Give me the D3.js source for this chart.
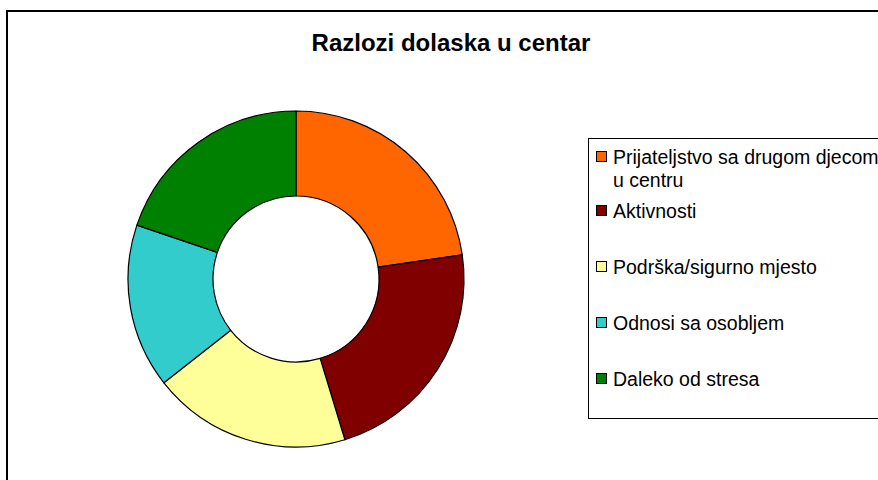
<!DOCTYPE html>
<html>
<head>
<meta charset="utf-8">
<script src="https://cdn.jsdelivr.net/npm/d3@7"></script>
<style>
	html, body { margin: 0; padding: 0; background: #fff; overflow: hidden; }
	svg { display: block; }
</style>
</head>
<body>
<script>
const TITLE = "Razlozi dolaska u centar";
const categories = [
	["Prijateljstvo sa drugom djecom", "u centru"],
	["Aktivnosti"],
	["Podrška/sigurno mjesto"],
	["Odnosi sa osobljem"],
	["Daleko od stresa"]
];
const values = [22.7, 22.6, 19.1, 15.8, 19.8];
const colors = ["#FF6600", "#800000", "#FFFF99", "#33CCCC", "#008000"];

const WIDTH = 878;
const HEIGHT = 480;
const FONT = "'Liberation Sans', Arial, sans-serif";

const CENTER = { x: 296, y: 279 };
const OUTER_R = 168;
const INNER_R = 83;

const LEGEND = { x: 588, y: 138, width: 400, height: 280, rowY: [157, 211, 267, 323, 379], lineGap: 23 };

const svg = d3.select("body").append("svg")
	.attr("width", WIDTH)
	.attr("height", HEIGHT);

// chart frame (runs off the right and bottom edge)
svg.append("rect")
	.attr("x", 7)
	.attr("y", 11)
	.attr("width", 1000)
	.attr("height", 1000)
	.attr("fill", "#fff")
	.attr("stroke", "#000")
	.attr("stroke-width", 2);

svg.append("text")
	.attr("x", 451)
	.attr("y", 51)
	.attr("text-anchor", "middle")
	.attr("font-family", FONT)
	.attr("font-weight", "bold")
	.attr("font-size", "24px")
	.text(TITLE);

const pie = d3.pie()
	.sort(null)
	.value(d => d);

const arc = d3.arc()
	.innerRadius(INNER_R)
	.outerRadius(OUTER_R);

svg.append("g")
	.attr("transform", `translate(${CENTER.x},${CENTER.y})`)
	.selectAll("path")
	.data(pie(values))
	.join("path")
	.attr("d", arc)
	.attr("fill", (d, i) => colors[i])
	.attr("stroke", "#000")
	.attr("stroke-width", 1.2)
	.attr("stroke-linejoin", "round");

// legend
const legend = svg.append("g");

legend.append("rect")
	.attr("x", LEGEND.x + 0.5)
	.attr("y", LEGEND.y + 0.5)
	.attr("width", LEGEND.width)
	.attr("height", LEGEND.height)
	.attr("fill", "#fff")
	.attr("stroke", "#000")
	.attr("stroke-width", 1);

const items = legend.selectAll("g.item")
	.data(categories)
	.join("g")
	.attr("class", "item")
	.attr("transform", (d, i) => `translate(${LEGEND.x},${LEGEND.rowY[i]})`);

items.append("rect")
	.attr("x", 8.5)
	.attr("y", -5.5)
	.attr("width", 10)
	.attr("height", 10)
	.attr("fill", (d, i) => colors[i])
	.attr("stroke", "#000")
	.attr("stroke-width", 1);

items.append("text")
	.attr("x", 25)
	.attr("font-family", FONT)
	.attr("font-size", "19.5px")
	.attr("fill", "#000")
	.selectAll("tspan")
	.data(d => d)
	.join("tspan")
	.attr("x", 25)
	.attr("y", (d, j) => 7 + j * LEGEND.lineGap)
	.text(d => d);
</script>
</body>
</html>
